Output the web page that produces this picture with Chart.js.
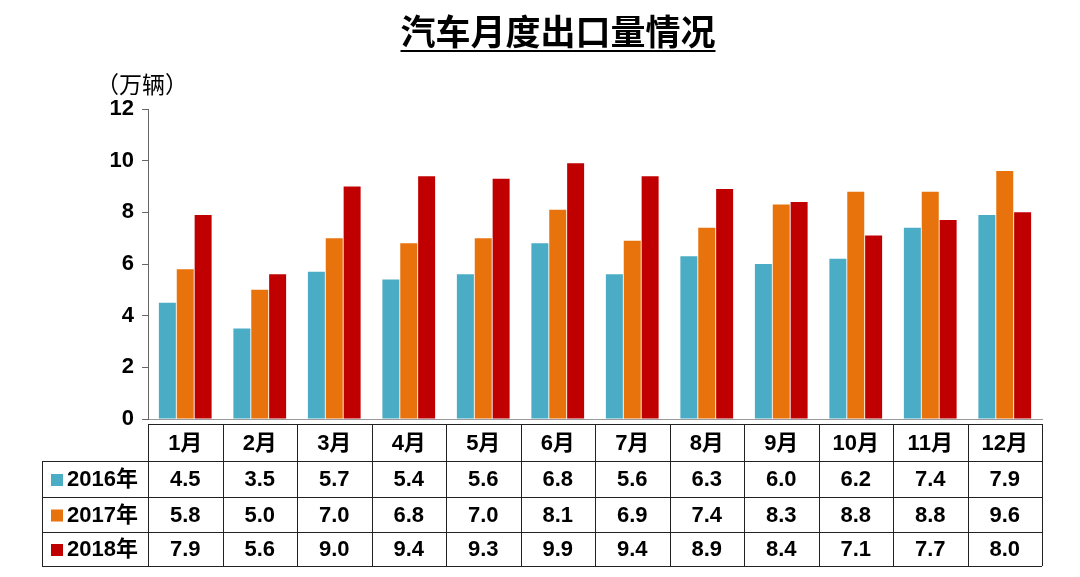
<!DOCTYPE html>
<html>
<head>
<meta charset="utf-8">
<script src="https://cdn.jsdelivr.net/npm/chart.js@4"></script>
<style>
  html, body { margin: 0; padding: 0; background: #fff; }
  #wrap { width: 1080px; height: 577px; }
</style>
</head>
<body>
<div id="wrap"><canvas id="exportChart"></canvas></div>
<script>
// 数据
const months = ['1月', '2月', '3月', '4月', '5月', '6月', '7月', '8月', '9月', '10月', '11月', '12月'];
const seriesNames = ['2016年', '2017年', '2018年'];
const data2016 = [4.5, 3.5, 5.7, 5.4, 5.6, 6.8, 5.6, 6.3, 6.0, 6.2, 7.4, 7.9];
const data2017 = [5.8, 5.0, 7.0, 6.8, 7.0, 8.1, 6.9, 7.4, 8.3, 8.8, 8.8, 9.6];
const data2018 = [7.9, 5.6, 9.0, 9.4, 9.3, 9.9, 9.4, 8.9, 8.4, 7.1, 7.7, 8.0];
const seriesColors = ['#4BACC6', '#E8720C', '#C00000'];

const FONT = '"Liberation Sans", Arial, "Noto Sans CJK SC", sans-serif';
const CJK = '"Noto Sans CJK SC", sans-serif';

// 标题、单位和底部数据表
const tablePlugin = {
    id: 'tablePlugin',
    afterDraw(chart) {
        const ctx = chart.ctx;
        const x = chart.scales.x;
        const area = chart.chartArea;
        const rows = [424, 461, 497, 532, 566];
        const labelLeft = 42;
        const step = (area.right - area.left) / months.length;

        ctx.save();
        // 标题
        ctx.fillStyle = '#000';
        ctx.font = 'bold 35px ' + CJK;
        ctx.textAlign = 'center';
        ctx.textBaseline = 'middle';
        ctx.fillText('汽车月度出口量情况', 558, 32);
        const tw = ctx.measureText('汽车月度出口量情况').width;
        ctx.fillRect(558 - tw / 2, 50, tw, 2);

        // 单位
        ctx.font = '23px ' + CJK;
        ctx.textAlign = 'left';
        ctx.fillText('（万辆）', 96, 84);

        // 表格线
        ctx.strokeStyle = '#222';
        ctx.lineWidth = 1;
        ctx.beginPath();
        ctx.moveTo(area.left, rows[0] + 0.5);
        ctx.lineTo(area.right, rows[0] + 0.5);
        for (let r = 1; r < rows.length; r++) {
            ctx.moveTo(labelLeft, rows[r] + 0.5);
            ctx.lineTo(area.right, rows[r] + 0.5);
        }
        ctx.moveTo(labelLeft + 0.5, rows[1]);
        ctx.lineTo(labelLeft + 0.5, rows[4]);
        for (let i = 0; i <= months.length; i++) {
            const px = Math.round(area.left + i * step) + 0.5;
            ctx.moveTo(px, rows[0]);
            ctx.lineTo(px, rows[4]);
        }
        ctx.stroke();

        // 表头
        ctx.textAlign = 'center';
        ctx.font = 'bold 22px ' + FONT;
        months.forEach((m, i) => {
            ctx.fillText(m, x.getPixelForValue(i), (rows[0] + rows[1]) / 2 + 1);
        });

        // 数据行
        const allData = [data2016, data2017, data2018];
        allData.forEach((arr, r) => {
            const cy = (rows[r + 1] + rows[r + 2]) / 2 + 1;
            ctx.textAlign = 'center';
            ctx.font = 'bold 22px ' + FONT;
            arr.forEach((v, i) => {
                ctx.fillText(v.toFixed(1), x.getPixelForValue(i), cy);
            });
            // 图例方块 + 名称
            ctx.fillStyle = seriesColors[r];
            ctx.fillRect(51, cy - 6, 12, 12);
            ctx.fillStyle = '#000';
            ctx.textAlign = 'left';
            ctx.fillText(seriesNames[r], 67, cy);
        });
        ctx.restore();
    }
};

new Chart(document.getElementById('exportChart'), {
    type: 'bar',
    data: {
        labels: months,
        datasets: [
            { label: seriesNames[0], data: data2016, backgroundColor: seriesColors[0] },
            { label: seriesNames[1], data: data2017, backgroundColor: seriesColors[1] },
            { label: seriesNames[2], data: data2018, backgroundColor: seriesColors[2] }
        ]
    },
    options: {
        responsive: true,
        maintainAspectRatio: false,
        animation: false,
        layout: { padding: { left: 42, right: 38, top: 109, bottom: 158 } },
        datasets: { bar: { categoryPercentage: 0.72, barPercentage: 0.95 } },
        plugins: {
            legend: { display: false },
            tooltip: { enabled: false }
        },
        scales: {
            x: {
                grid: { display: false },
                border: { display: true, color: '#999', width: 1 },
                ticks: { display: false },
                afterFit: (s) => { s.height = 0; }
            },
            y: {
                min: 0,
                max: 12,
                ticks: {
                    stepSize: 2,
                    color: '#000',
                    padding: 8,
                    font: { family: FONT, size: 22, weight: 'bold' }
                },
                grid: { drawOnChartArea: false, drawTicks: true, tickLength: 6, color: '#666' },
                border: { display: true, color: '#666', width: 1 },
                afterFit: (s) => { s.width = 106; }
            }
        }
    },
    plugins: [tablePlugin]
});
</script>
</body>
</html>
